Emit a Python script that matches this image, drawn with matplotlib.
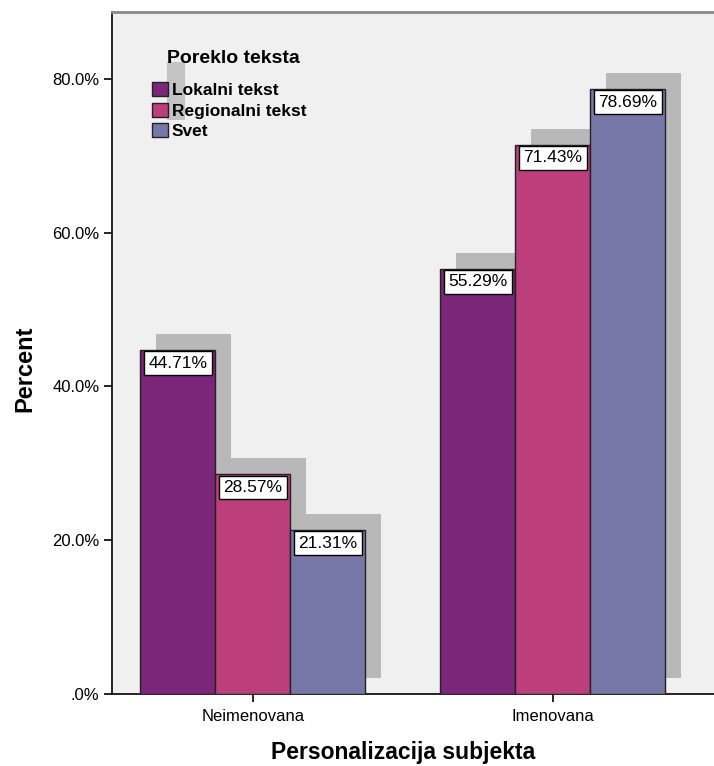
import numpy as np
import matplotlib
matplotlib.use("Agg")
import matplotlib.pyplot as plt
from matplotlib.patches import Patch, Rectangle

plt.rcParams['font.family'] = ['Liberation Sans', 'DejaVu Sans']

# data
categories = ["Neimenovana", "Imenovana"]
series_names = ["Lokalni tekst", "Regionalni tekst", "Svet"]
legend_title = "Poreklo teksta"
lokalni = [44.71, 55.29]
regionalni = [28.57, 71.43]
svet = [21.31, 78.69]
ytick_vals = [0, 20, 40, 60, 80]
ytick_labels = [".0%", "20.0%", "40.0%", "60.0%", "80.0%"]

colors = ["#7b2679", "#bc3f7c", "#7878a8"]
shadow_col = "#b8b8b8"
bg = "#f0f0f0"

fig = plt.figure(figsize=(7.14, 7.66), dpi=100)
ax = fig.add_axes([112/714, 1-694/766, 1-112/714, 682/766])
ax.set_facecolor(bg)

x = np.arange(len(categories))
width = 0.25
offsets = [-width, 0, width]
dx = 0.053   # shadow shift right
dy = 2.08    # shadow shift up

all_series = [lokalni, regionalni, svet]
for vals, off in zip(all_series, offsets):
	ax.bar(x + off + dx, vals, width, bottom=dy, color=shadow_col, zorder=1, linewidth=0)

for vals, off, col in zip(all_series, offsets, colors):
	ax.bar(x + off, vals, width, color=col, edgecolor="#222222", linewidth=1.0, zorder=3)
	for xi, v in zip(x + off, vals):
		ax.annotate(f"{v:.2f}%", xy=(xi, v), xytext=(0, -4.0), textcoords="offset points",
			ha="center", va="top", fontsize=12.5, zorder=5,
			bbox=dict(boxstyle="square,pad=0.25", fc="white", ec="black", lw=1.0))

ax.set_xlim(-0.47, 1.537)
ax.set_ylim(0, 88.7)

ax.set_xticks(x)
ax.set_xticklabels(categories, fontsize=12)
ax.set_yticks(ytick_vals)
ax.set_yticklabels(ytick_labels, fontsize=12)
ax.tick_params(axis="both", direction="out", length=6, width=1.2, color="black", pad=3)
ax.tick_params(axis="x", pad=5)

ax.spines["right"].set_visible(False)
ax.spines["top"].set_color("#888888")
ax.spines["top"].set_linewidth(2)
ax.spines["left"].set_linewidth(1.2)
ax.spines["bottom"].set_linewidth(1.2)

ax.set_ylabel("Percent", fontsize=17, fontweight="bold")
ax.yaxis.set_label_coords(-0.1445, 0.4765)
ax.yaxis.label.set_va("center")
ax.set_xlabel("Personalizacija subjekta", fontsize=16.5, fontweight="bold")
ax.xaxis.set_label_coords(0.483, -0.0865)
ax.xaxis.label.set_va("center")

# legend with its little gray shadow
ax.add_patch(Rectangle((0.091, 0.842), 0.030, 0.085, transform=ax.transAxes,
	color=shadow_col, alpha=0.8, zorder=6, linewidth=0))
ax.text(0.201, 0.932, legend_title, transform=ax.transAxes, ha="center", va="center",
	fontsize=14, fontweight="bold", zorder=7)
handles = [Patch(facecolor=c, edgecolor="#222222", linewidth=1.0) for c in colors]
leg = ax.legend(handles, series_names, loc="upper left",
	bbox_to_anchor=(0.066, 0.897), frameon=False, borderpad=0, borderaxespad=0,
	handlelength=0.95, handleheight=0.85, handletextpad=0.2, labelspacing=0.27,
	prop={"weight": "bold", "size": 12.5})
leg.set_zorder(7)

fig.savefig("out.png", dpi=100, facecolor="white")
